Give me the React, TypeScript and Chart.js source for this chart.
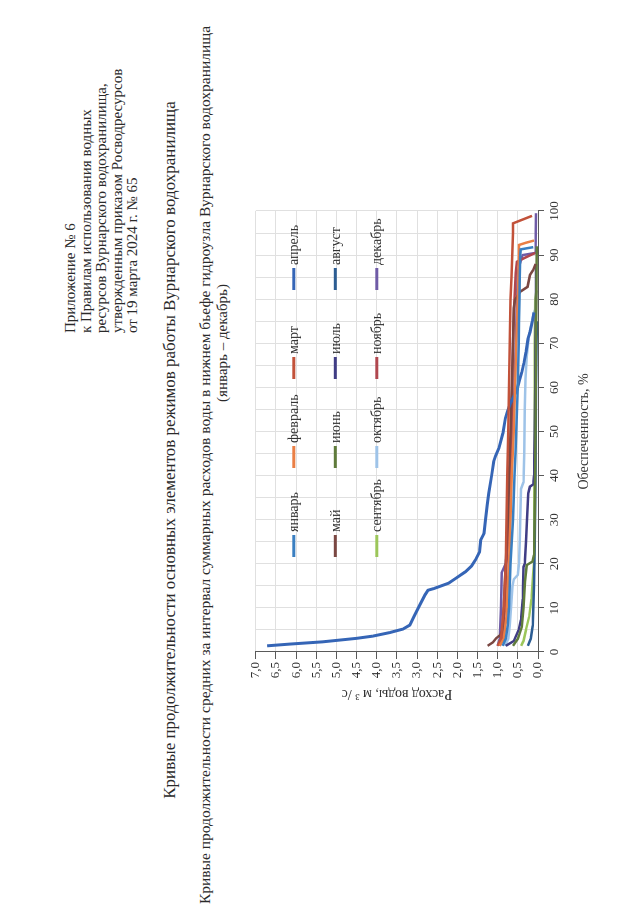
import { useEffect, useRef } from "react";
import { Chart, registerables } from "chart.js";

Chart.register(...registerables);

// ---------- data ----------
const months = [
  "январь", "февраль", "март", "апрель",
  "май", "июнь", "июль", "август",
  "сентябрь", "октябрь", "ноябрь", "декабрь",
];

const pctTicks = [0, 10, 20, 30, 40, 50, 60, 70, 80, 90, 100];
const flowTicks = [0, 0.5, 1, 1.5, 2, 2.5, 3, 3.5, 4, 4.5, 5, 5.5, 6, 6.5, 7];

const janPct = [1.4, 3, 6, 10, 15, 20, 25, 30, 35, 40, 45, 50, 55, 60, 65, 70, 75, 80, 85, 90, 91.3, 91.8];
const janQ = [0.88, 0.8, 0.75, 0.72, 0.7, 0.68, 0.65, 0.62, 0.6, 0.58, 0.56, 0.54, 0.52, 0.5, 0.49, 0.48, 0.47, 0.46, 0.45, 0.44, 0.43, 0.12];

const febPct = [1.4, 3, 8, 15, 20, 25, 30, 40, 50, 60, 70, 80, 88, 92.3, 92.8, 93.3];
const febQ = [0.95, 0.85, 0.78, 0.75, 0.72, 0.7, 0.68, 0.65, 0.6, 0.57, 0.54, 0.5, 0.48, 0.47, 0.3, 0.1];

const marPct = [1.4, 3, 10, 20, 30, 40, 50, 60, 70, 80, 85, 90, 95, 97.2, 98.9];
const marQ = [1.0, 0.92, 0.85, 0.8, 0.78, 0.76, 0.74, 0.72, 0.7, 0.68, 0.66, 0.64, 0.62, 0.62, 0.15];

const aprPct = [1.4, 1.8, 2.3, 3.1, 3.6, 4.4, 5.2, 6.1, 8.0, 10.7, 13.0, 14.0, 14.4, 15.6, 16.7, 18.2, 19.5, 20.9, 22.7, 25.4, 26.9, 30, 33.4, 36, 40, 43.2, 44.5, 46.2, 49.7, 53, 54.5, 56.5, 58, 59.5, 61.7, 63.5, 65.5, 68, 71, 72.5, 75, 77];
const aprQ = [6.72, 6.15, 5.35, 4.5, 4.1, 3.68, 3.35, 3.18, 3.08, 2.93, 2.8, 2.73, 2.58, 2.22, 2.04, 1.8, 1.65, 1.55, 1.45, 1.42, 1.34, 1.3, 1.26, 1.22, 1.15, 1.1, 1.05, 0.97, 0.87, 0.81, 0.76, 0.68, 0.6, 0.52, 0.46, 0.4, 0.35, 0.3, 0.25, 0.2, 0.14, 0.1];

const mayPct = [1.4, 2.2, 3.1, 3.9, 5, 10, 20, 30, 40, 50, 60, 70, 78, 79.8, 81.7, 82.8, 85.5, 86.6, 88];
const mayQ = [1.25, 1.12, 1.04, 0.93, 0.88, 0.85, 0.8, 0.75, 0.72, 0.68, 0.65, 0.62, 0.6, 0.57, 0.44, 0.26, 0.2, 0.12, 0.06];

const junPct = [1.4, 3, 5.7, 10, 16, 19.7, 20.5, 22, 30, 50, 70, 85, 92];
const junQ = [0.62, 0.5, 0.4, 0.36, 0.32, 0.28, 0.14, 0.1, 0.08, 0.06, 0.05, 0.04, 0.03];

const julPct = [1.4, 2.5, 5, 7.3, 12, 19.3, 20, 25, 30, 36, 37.5, 38, 40, 50, 60, 70, 80, 88];
const julQ = [0.8, 0.6, 0.48, 0.42, 0.38, 0.36, 0.33, 0.3, 0.27, 0.24, 0.2, 0.12, 0.1, 0.08, 0.07, 0.06, 0.05, 0.05];

const augPct = [1.4, 3, 6, 15, 25, 40, 60, 70, 75];
const augQ = [0.25, 0.18, 0.13, 0.1, 0.08, 0.06, 0.05, 0.04, 0.02];

const sepPct = [1.4, 2.5, 5, 8, 12, 18, 20, 30, 50, 70, 80, 82];
const sepQ = [0.42, 0.36, 0.3, 0.22, 0.16, 0.12, 0.1, 0.09, 0.08, 0.08, 0.07, 0.04];

const octPct = [1.4, 3, 6, 10, 15, 16.5, 17.5, 20, 25, 30, 37, 38.5, 45, 55, 62, 67, 72, 75, 77, 78];
const octQ = [0.82, 0.74, 0.7, 0.67, 0.63, 0.6, 0.5, 0.47, 0.45, 0.44, 0.42, 0.36, 0.34, 0.33, 0.31, 0.28, 0.22, 0.15, 0.1, 0.05];

const novPct = [1.4, 3, 10, 20, 30, 40, 50, 60, 70, 80, 86, 88.5, 89.5, 90.5];
const novQ = [0.95, 0.88, 0.82, 0.78, 0.72, 0.68, 0.66, 0.64, 0.62, 0.58, 0.55, 0.52, 0.3, 0.07];

const decPct = [1.4, 3, 10, 18, 20, 25, 30, 40, 50, 60, 70, 80, 86, 88, 90, 90.5, 99.5];
const decQ = [1.0, 0.95, 0.92, 0.9, 0.8, 0.75, 0.72, 0.68, 0.63, 0.58, 0.55, 0.52, 0.5, 0.45, 0.38, 0.06, 0.05];

const seriesPct = [janPct, febPct, marPct, aprPct, mayPct, junPct, julPct, augPct, sepPct, octPct, novPct, decPct];
const seriesQ = [janQ, febQ, marQ, aprQ, mayQ, junQ, julQ, augQ, sepQ, octQ, novQ, decQ];

// ---------- styles ----------
const colors = [
  "#3a7fc1", "#ea7f45", "#c2523a", "#3565b6",
  "#7a4742", "#5f7b3b", "#403d85", "#2c5d93",
  "#9cc65a", "#9ec3e8", "#b0474f", "#6f5ba6",
];
const FONT = '"Liberation Serif", "Times New Roman", serif';
const TEXT = "#333333";

const legendPlugin = {
  id: "insideLegend",
  afterDatasetsDraw(chart: any) {
    const { ctx, chartArea } = chart;
    ctx.save();
    chart.data.datasets.forEach((ds: any, i: number) => {
      const row = Math.floor(i / 4);
      const col = i % 4;
      const x = chartArea.left + 95 + col * 89;
      const y = chartArea.top + 38 + row * 41.5;
      ctx.strokeStyle = ds.borderColor;
      ctx.lineWidth = 3;
      ctx.lineCap = "butt";
      ctx.beginPath();
      ctx.moveTo(x, y);
      ctx.lineTo(x + 22, y);
      ctx.stroke();
      ctx.fillStyle = TEXT;
      ctx.font = `14px ${FONT}`;
      ctx.textBaseline = "middle";
      ctx.textAlign = "left";
      ctx.fillText(ds.label, x + 25, y + 1);
    });
    ctx.restore();
  },
};

const W = 540;
const H = 360;

function DurationChart() {
  const ref = useRef<HTMLCanvasElement>(null);
  useEffect(() => {
    const datasets = months.map((m, i) => ({
      label: m,
      data: seriesPct[i].map((p, j) => ({ x: p, y: seriesQ[i][j] })),
      borderColor: colors[i],
      backgroundColor: colors[i],
      borderWidth: i === 3 ? 3 : 2.5,
      pointRadius: 0,
      showLine: true,
      tension: 0,
      fill: false,
    }));
    const chart = new Chart(ref.current as HTMLCanvasElement, {
      type: "scatter",
      data: { datasets },
      plugins: [legendPlugin],
      options: {
        animation: false,
        responsive: false,
        devicePixelRatio: 1,
        layout: { padding: { top: 8, right: 27, left: 0, bottom: 0 } },
        plugins: { legend: { display: false }, tooltip: { enabled: false } },
        scales: {
          x: {
            type: "linear",
            min: 0,
            max: 100,
            afterBuildTicks: (s: any) => {
              const t: any[] = [];
              for (let v = 0; v <= 100; v += 5) t.push({ value: v });
              s.ticks = t;
            },
            ticks: {
              autoSkip: false,
              maxRotation: 0,
              padding: 3,
              color: TEXT,
              font: { family: FONT, size: 13 },
              callback: (v: any) => (pctTicks.includes(Number(v)) ? String(v) : ""),
            },
            grid: {
              color: "#e0e0e0",
              lineWidth: 1,
              tickLength: 6,
              tickColor: (c: any) =>
                c.tick && pctTicks.includes(c.tick.value) ? "#5a5a5a" : "rgba(0,0,0,0)",
            },
            border: { color: "#5a5a5a", width: 1 },
            title: {
              display: true,
              text: "Обеспеченность, %",
              color: TEXT,
              font: { family: FONT, size: 14 },
              padding: { top: 0, bottom: 12 },
            },
            afterFit: (s: any) => {
              s.height = 67;
            },
          },
          y: {
            type: "linear",
            min: 0,
            max: 7,
            afterBuildTicks: (s: any) => {
              s.ticks = flowTicks.map((v) => ({ value: v }));
            },
            ticks: {
              autoSkip: false,
              padding: 3,
              color: TEXT,
              font: { family: FONT, size: 13 },
              callback: (v: any) => Number(v).toFixed(1).replace(".", ","),
            },
            grid: { color: "#e0e0e0", lineWidth: 1, tickLength: 7, tickColor: "#5a5a5a" },
            border: { color: "#5a5a5a", width: 1 },
            title: {
              display: true,
              text: "Расход воды, м ³ /с",
              color: TEXT,
              font: { family: FONT, size: 14 },
              padding: { top: 22, bottom: 0 },
            },
            afterFit: (s: any) => {
              s.width = 72;
            },
          },
        },
      } as any,
    });
    return () => chart.destroy();
  }, []);
  return <canvas ref={ref} width={W} height={H} style={{ width: W, height: H, display: "block" }} />;
}

export default function App() {
  const abs = (left: number, top: number, extra: any = {}) => ({
    position: "absolute" as const,
    left,
    top,
    whiteSpace: "nowrap" as const,
    ...extra,
  });
  return (
    <div style={{ position: "fixed", left: 0, top: 0, width: 640, height: 924, overflow: "hidden", background: "#ffffff" }}>
      <div
        style={{
          position: "absolute",
          left: 0,
          top: 0,
          width: 924,
          height: 640,
          transformOrigin: "0 0",
          transform: "translate(0px, 924px) rotate(-90deg)",
          fontFamily: FONT,
          color: "#2a2a2a",
        }}
      >
        <div style={abs(591, 63, { fontSize: 15, lineHeight: "15.6px" })}>
          Приложение № 6<br />
          к Правилам использования водных<br />
          ресурсов Вурнарского водохранилища,<br />
          утвержденным приказом Росводресурсов<br />
          от 19 марта 2024 г. № 65
        </div>
        <div style={abs(474, 160, { fontSize: 17, lineHeight: "20px", transform: "translateX(-50%)" })}>
          Кривые продолжительности основных элементов режимов работы Вурнарского водохранилища
        </div>
        <div style={abs(459, 195, { fontSize: 15.5, lineHeight: "19px", transform: "translateX(-50%)" })}>
          Кривые продолжительности средних за интервал суммарных расходов воды в нижнем бьефе гидроузла Вурнарского водохранилища
        </div>
        <div style={abs(581, 213, { fontSize: 15, lineHeight: "18px", transform: "translateX(-50%)" })}>
          (январь – декабрь)
        </div>
        <div style={abs(200, 245)}>
          <DurationChart />
        </div>
      </div>
    </div>
  );
}
